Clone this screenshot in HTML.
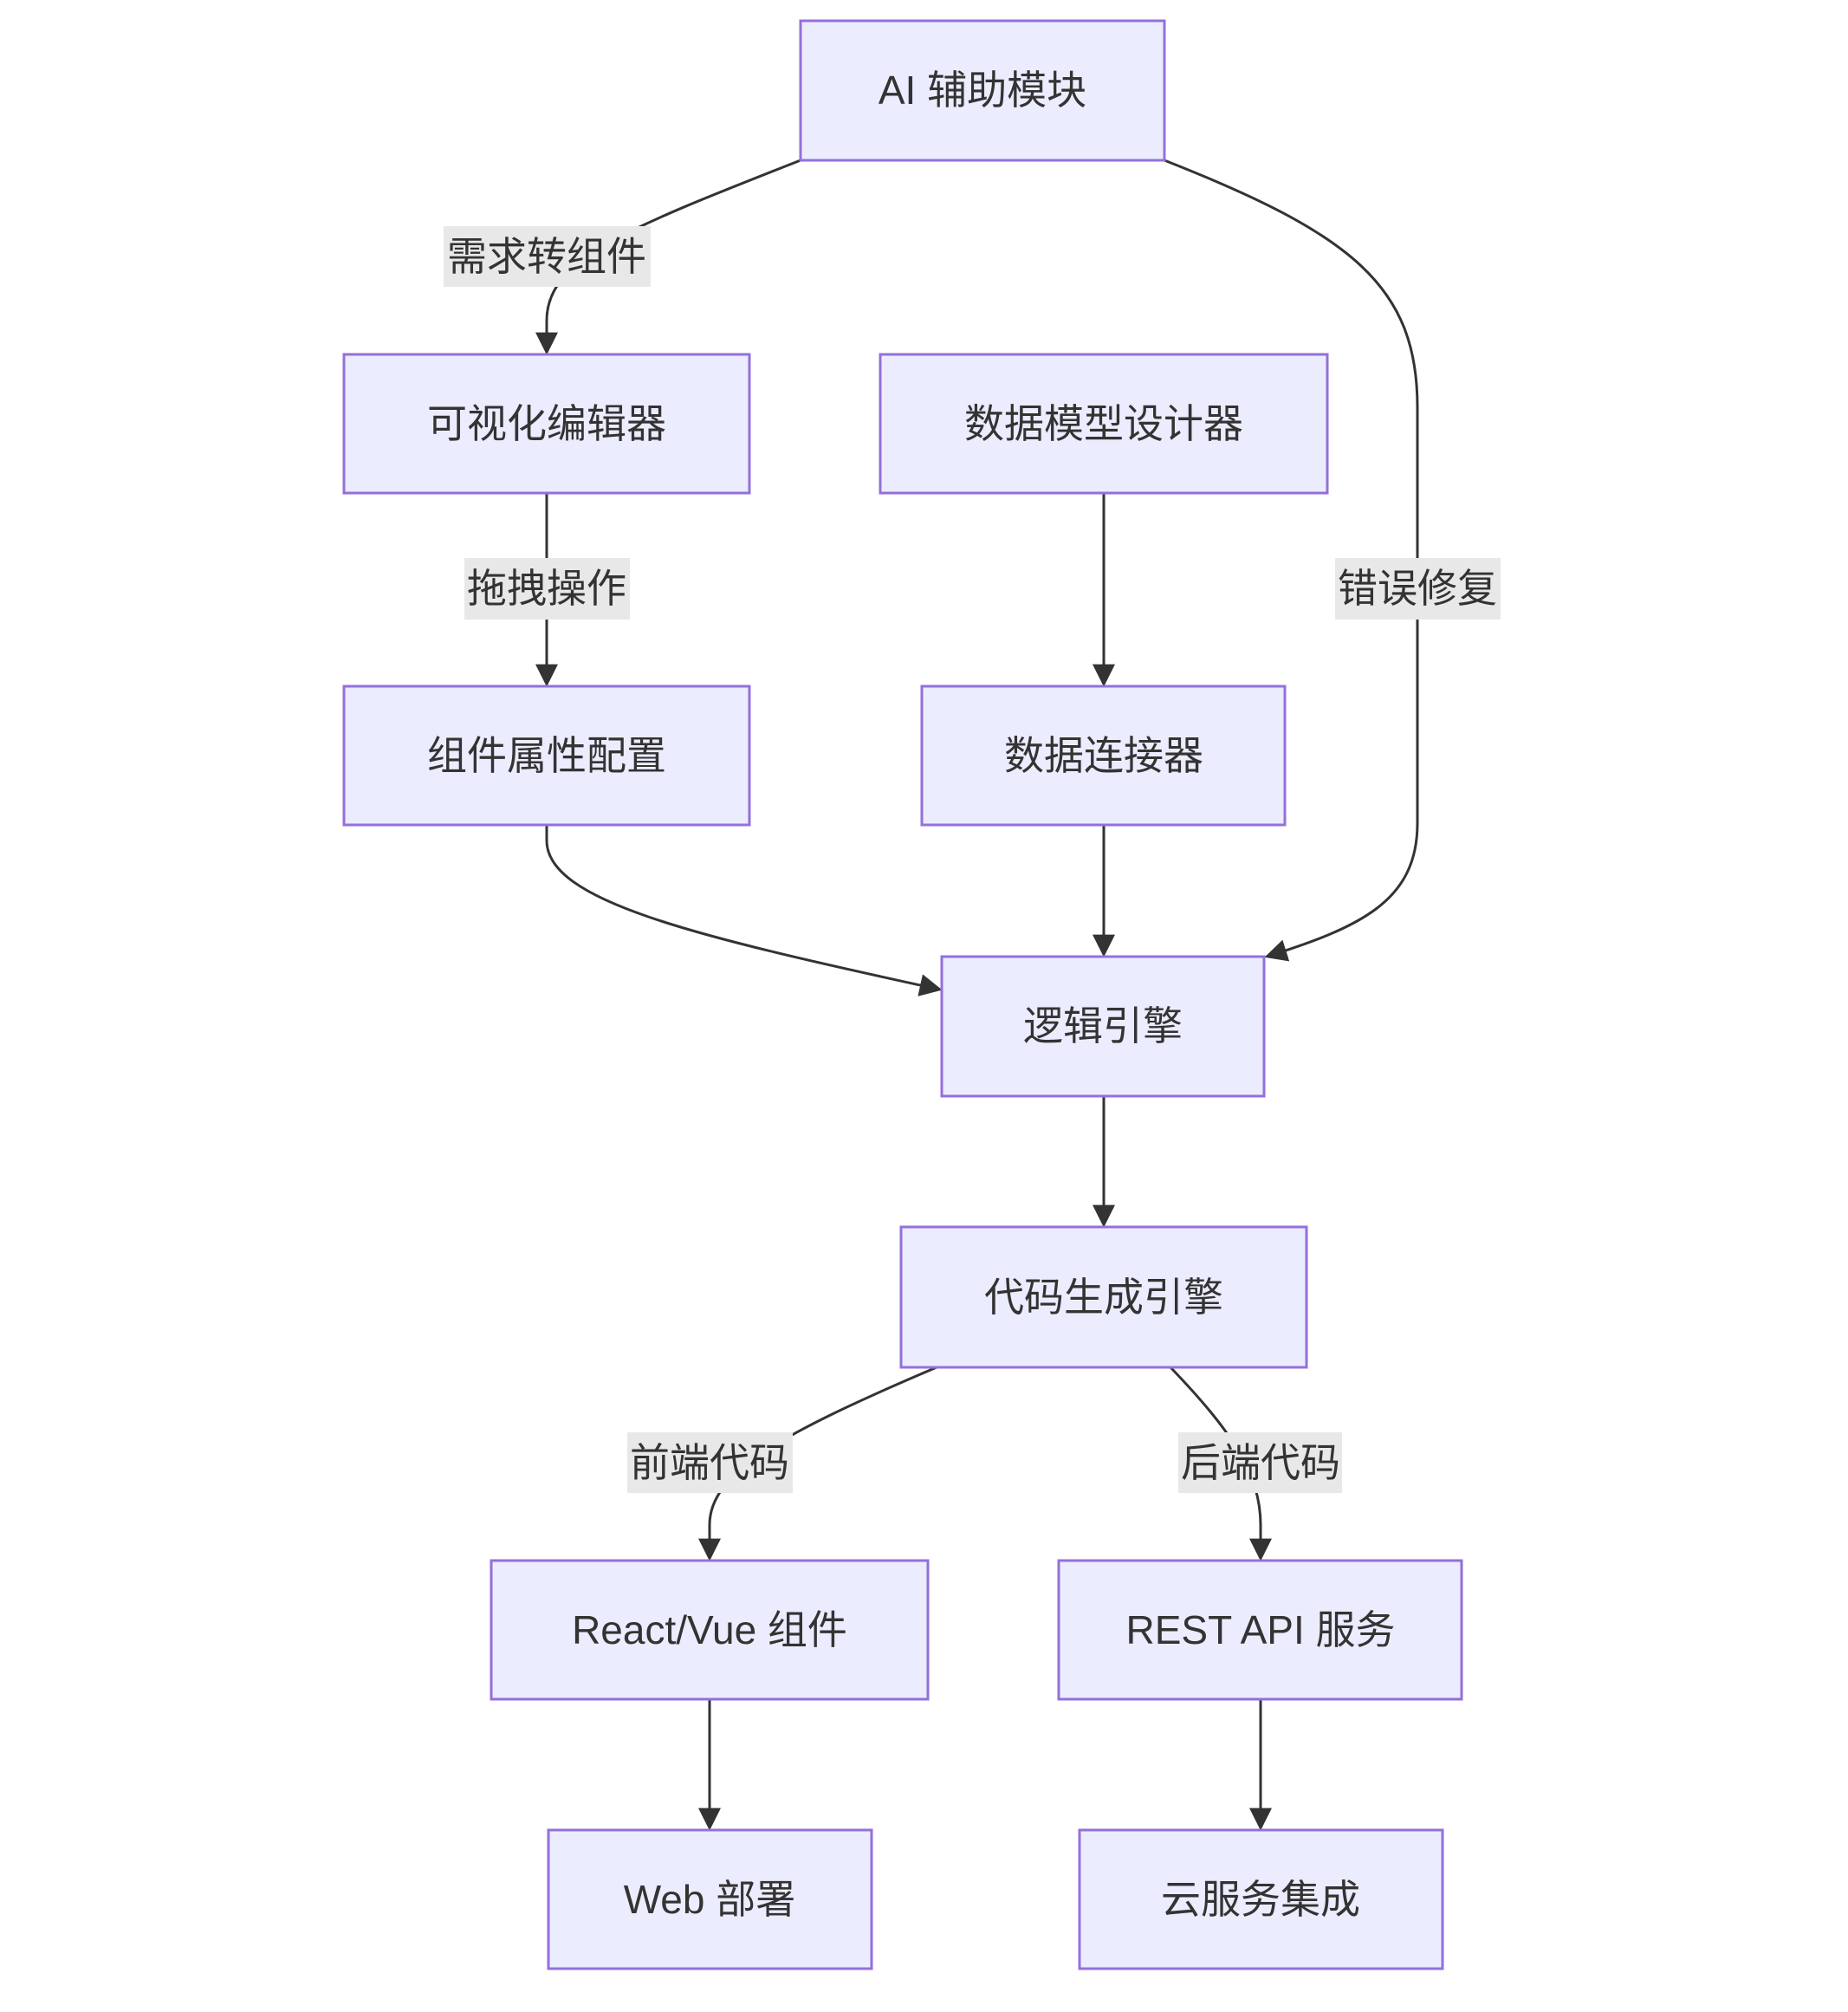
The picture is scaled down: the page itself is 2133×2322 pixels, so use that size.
<!DOCTYPE html>
<html><head><meta charset="utf-8"><style>
html,body{margin:0;padding:0;background:#fff;}
svg{display:block;}
text{font-family:"Liberation Sans","Noto Sans CJK SC",sans-serif;font-size:46px;fill:#333;}
.n{fill:#ECECFF;stroke:#9370DB;stroke-width:3;}
.e{fill:none;stroke:#333;stroke-width:3;}
.lb{fill:#e8e8e8;}
</style></head><body>
<svg width="2133" height="2322" viewBox="0 0 2133 2322" xmlns="http://www.w3.org/2000/svg">
<defs><marker id="a" viewBox="0 0 10 10" refX="9" refY="5" markerWidth="8" markerHeight="8" markerUnits="userSpaceOnUse" orient="auto"><path d="M0,0L10,5L0,10z" fill="#333"/></marker>
<marker id="b" viewBox="0 0 10 10" refX="9" refY="5" markerWidth="26" markerHeight="26" markerUnits="userSpaceOnUse" orient="auto"><path d="M0,0L10,5L0,10z" fill="#333"/></marker></defs>
<g class="e" marker-end="url(#b)">
<path d="M924,185 C720,265 631,300 631,370 L631,407"/>
<path d="M1344,185 C1560,270 1636,330 1636,470 L1636,950 C1636,1040 1570,1070 1462,1104"/>
<path d="M631,569 L631,790"/>
<path d="M1274,569 L1274,790"/>
<path d="M631,952 L631,970 C631,1040 800,1080 1085,1142"/>
<path d="M1274,952 L1274,1102"/>
<path d="M1274,1265 L1274,1414"/>
<path d="M1081,1578 C900,1655 819,1700 819,1760 L819,1799"/>
<path d="M1351,1578 C1420,1650 1455,1700 1455,1760 L1455,1799"/>
<path d="M819,1961 L819,2110"/>
<path d="M1455,1961 L1455,2110"/>
</g>
<g>
<rect class="lb" x="512" y="261" width="239" height="70"/><text x="631" y="312" text-anchor="middle">需求转组件</text>
<rect class="lb" x="536" y="644" width="191" height="71"/><text x="631" y="695" text-anchor="middle">拖拽操作</text>
<rect class="lb" x="1541" y="644" width="191" height="71"/><text x="1636" y="695" text-anchor="middle">错误修复</text>
<rect class="lb" x="724" y="1653" width="191" height="70"/><text x="819" y="1704" text-anchor="middle">前端代码</text>
<rect class="lb" x="1360" y="1653" width="189" height="70"/><text x="1455" y="1704" text-anchor="middle">后端代码</text>
</g>
<g>
<rect class="n" x="924" y="24" width="420" height="161"/><text x="1134" y="120" text-anchor="middle">AI 辅助模块</text>
<rect class="n" x="397" y="409" width="468" height="160"/><text x="631" y="505" text-anchor="middle">可视化编辑器</text>
<rect class="n" x="1016" y="409" width="516" height="160"/><text x="1274" y="505" text-anchor="middle">数据模型设计器</text>
<rect class="n" x="397" y="792" width="468" height="160"/><text x="631" y="888" text-anchor="middle">组件属性配置</text>
<rect class="n" x="1064" y="792" width="419" height="160"/><text x="1274" y="888" text-anchor="middle">数据连接器</text>
<rect class="n" x="1087" y="1104" width="372" height="161"/><text x="1273" y="1200" text-anchor="middle">逻辑引擎</text>
<rect class="n" x="1040" y="1416" width="468" height="162"/><text x="1274" y="1513" text-anchor="middle">代码生成引擎</text>
<rect class="n" x="567" y="1801" width="504" height="160"/><text x="819" y="1897" text-anchor="middle">React/Vue 组件</text>
<rect class="n" x="1222" y="1801" width="465" height="160"/><text x="1455" y="1897" text-anchor="middle">REST API 服务</text>
<rect class="n" x="633" y="2112" width="373" height="160"/><text x="819" y="2208" text-anchor="middle">Web 部署</text>
<rect class="n" x="1246" y="2112" width="419" height="160"/><text x="1455" y="2208" text-anchor="middle">云服务集成</text>
</g>
</svg>
</body></html>
